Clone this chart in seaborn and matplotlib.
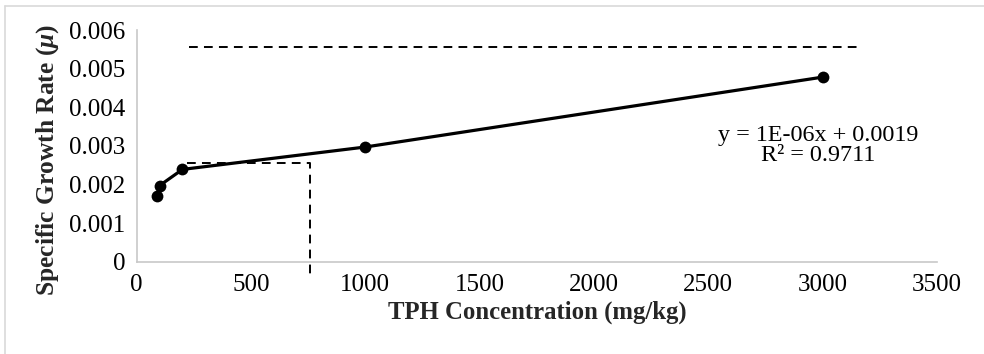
import matplotlib
matplotlib.use("Agg")
import matplotlib.pyplot as plt
import seaborn as sns
import pandas as pd
from matplotlib.lines import Line2D

sns.set_theme(style="white")
plt.rcParams['font.family'] = ['Liberation Serif', 'DejaVu Serif']
plt.rcParams['mathtext.fontset'] = 'custom'
plt.rcParams['mathtext.it'] = 'Liberation Serif:italic:bold'
plt.rcParams['mathtext.rm'] = 'Liberation Serif:bold'

# Data
tph = [90, 100, 200, 1000, 3000]
mu = [0.00169, 0.00197, 0.00239, 0.00297, 0.00478]

# Reference dashed lines
top_dash_x = [230, 3160]
top_dash_y = [0.00557, 0.00557]
knee_dash_x = [219, 756, 756]
knee_dash_y = [0.00256, 0.00256, -0.00043]

x_ticks = [0, 500, 1000, 1500, 2000, 2500, 3000, 3500]
y_ticks = [0, 0.001, 0.002, 0.003, 0.004, 0.005, 0.006]
y_tick_labels = ["0", "0.001", "0.002", "0.003", "0.004", "0.005", "0.006"]

df = pd.DataFrame({"TPH": tph, "mu": mu})

fig = plt.figure(figsize=(9.84, 3.54), dpi=100)
ax = fig.add_axes([136.7/984, 1-261.7/354, (937-136.7)/984, (261.7-30)/354])

sns.lineplot(data=df, x="TPH", y="mu", ax=ax, color="black", linewidth=2.3,
             marker="o", markersize=8.5, markeredgewidth=0, sort=True, estimator=None)
ax.plot(top_dash_x, top_dash_y, color="black", linestyle=(0, (4.5, 3.2)), linewidth=1.4)
ax.plot(knee_dash_x, knee_dash_y, color="black", linestyle=(0, (4.5, 3.2)), linewidth=1.4, clip_on=False)

ax.set_xlim(0, 3500)
ax.set_ylim(0, 0.006)
ax.set_xticks(x_ticks)
ax.set_xticklabels([str(t) for t in x_ticks])
ax.set_yticks(y_ticks)
ax.set_yticklabels(y_tick_labels)

for s in ["top", "right"]:
    ax.spines[s].set_visible(False)
for s in ["left", "bottom"]:
    ax.spines[s].set_color("#c8c8c8")
    ax.spines[s].set_linewidth(1.2)
ax.tick_params(axis="both", which="both", direction="out", length=5, width=1.2,
               color="#c8c8c8", labelsize=18, labelcolor="black", pad=3)
ax.tick_params(axis="x", pad=4)

ax.set_xlabel("TPH Concentration (mg/kg)", fontsize=17.8, fontweight="bold")
ax.set_ylabel("Specific Growth Rate ($\\mu$)", fontsize=18.4, fontweight="bold")
ax.xaxis.set_label_coords(0.5, -0.166)
ax.yaxis.set_label_coords(-0.0946, 0.44)

ax.text(2980, 0.0030, "y = 1E-06x + 0.0019\nR² = 0.9711", ha="center", va="center",
        fontsize=17.4, linespacing=0.92, color="black")

fig.add_artist(Line2D([5/984, 1], [1-6/354, 1-6/354], transform=fig.transFigure, color="#d9d9d9", linewidth=1.2))
fig.add_artist(Line2D([5/984, 5/984], [0, 1-6/354], transform=fig.transFigure, color="#d9d9d9", linewidth=1.2))

fig.savefig("out.png", dpi=100)
